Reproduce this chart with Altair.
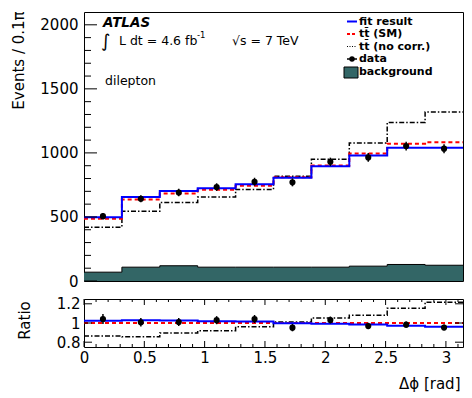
import numpy as np
import pandas as pd
import altair as alt

# ---- binning: 10 bins of width 0.1*pi in delta-phi ----
edges = np.linspace(0, np.pi, 11)
centers = 0.5 * (edges[:-1] + edges[1:])

# ---- event counts per bin ----
fit_result = [498, 655, 702, 725, 756, 806, 895, 980, 1041, 1041]
ttbar_sm = [486, 637, 684, 712, 744, 809, 902, 996, 1072, 1084]
ttbar_nocorr = [420, 545, 613, 655, 715, 818, 950, 1077, 1238, 1319]
data_counts = [506, 642, 691, 733, 775, 770, 930, 965, 1053, 1033]
data_errors = [25, 28, 29, 30, 31, 31, 33, 34, 35, 35]
background = [69, 108, 119, 108, 108, 108, 108, 116, 129, 123]

x_tick_labels = [0, 0.5, 1, 1.5, 2, 2.5, 3]
y_major = [0, 500, 1000, 1500, 2000]
r_major = [0.8, 1.0, 1.2]

W, H1, H2 = 379, 269, 48
FONT = "DejaVu Sans"
BG_COLOR = "#336666"


def steps(vals):
    return pd.DataFrame({"x": edges, "y": list(vals) + [vals[-1]]})


xs = alt.Scale(domain=[0, float(np.pi)], nice=False, zero=False)
ys = alt.Scale(domain=[0, 2100], nice=False)
rs = alt.Scale(domain=[0.75, 1.25], nice=False, zero=False)

y_axis = alt.Axis(values=y_major, format="d", ticks=False, domain=False,
                  labelPadding=6, labelFontSize=15, titleFontSize=15,
                  titleX=-61, titleY=48, titleAlign="center",
                  titleBaseline="alphabetic", titleAngle=270)
Y_TITLE = "Events / 0.1\u03c0"

r_axis = alt.Axis(values=r_major, format="~g", ticks=False, domain=False,
                  labelPadding=4, labelFontSize=15, titleFontSize=15,
                  titleX=-55, titleY=21, titleAlign="center",
                  titleBaseline="alphabetic", titleAngle=270)
R_TITLE = "Ratio"

x_axis_bottom = alt.Axis(values=x_tick_labels, format="~g", ticks=False, domain=False,
                         labelFlush=False, labelPadding=3, labelFontSize=15,
                         titleFontSize=15, titleX=376, titleY=41, titleAlign="right",
                         titleBaseline="alphabetic")
X_TITLE = "\u0394\u03d5 [rad]"


def X(field="x"):
    return alt.X(f"{field}:Q", scale=xs, axis=None)


def Y(field="y"):
    return alt.Y(f"{field}:Q", scale=ys, axis=y_axis, title=Y_TITLE)


# ================= upper panel =================
bg_area = alt.Chart(steps(background)).mark_area(
    interpolate="step-after", color=BG_COLOR, opacity=1
).encode(x=X(), y=Y(), y2=alt.datum(0))

bg_edge = alt.Chart(steps(background)).mark_line(
    interpolate="step-after", color="black", strokeWidth=1
).encode(x=X(), y=Y())

nocorr_line = alt.Chart(steps(ttbar_nocorr)).mark_line(
    interpolate="step-after", color="black", strokeWidth=1.5, strokeDash=[5, 2, 1.5, 2]
).encode(x=X(), y=Y())

sm_line = alt.Chart(steps(ttbar_sm)).mark_line(
    interpolate="step-after", color="#ff0000", strokeWidth=2, strokeDash=[4, 3]
).encode(x=X(), y=Y())

fit_line = alt.Chart(steps(fit_result)).mark_line(
    interpolate="step-after", color="#0000ff", strokeWidth=2
).encode(x=X(), y=Y())

data_df = pd.DataFrame({
    "x": centers,
    "y": data_counts,
    "lo": np.array(data_counts) - np.array(data_errors),
    "hi": np.array(data_counts) + np.array(data_errors),
})
data_err = alt.Chart(data_df).mark_rule(color="black", strokeWidth=1.5).encode(
    x=X(), y=Y("lo"), y2="hi:Q")
data_pts = alt.Chart(data_df).mark_circle(color="black", size=38, opacity=1).encode(
    x=X(), y=Y())

# inward ticks on the left edge
ymaj_df = pd.DataFrame({"y": y_major})
ymin_df = pd.DataFrame({"y": [v for v in range(100, 2100, 100) if v % 500]})
y_major_ticks = alt.Chart(ymaj_df).mark_rule(color="black").encode(
    y=Y(), x=alt.value(0), x2=alt.value(13))
y_minor_ticks = alt.Chart(ymin_df).mark_rule(color="black").encode(
    y=Y(), x=alt.value(0), x2=alt.value(7))


def label(text, x, y, size=12.5, weight="normal", style="normal", align="left"):
    return alt.Chart(pd.DataFrame({"t": [text]})).mark_text(
        font=FONT, fontSize=size, fontWeight=weight, fontStyle=style,
        align=align, baseline="alphabetic", color="black"
    ).encode(x=alt.value(x), y=alt.value(y), text="t:N")


atlas = label("ATLAS", 19, 15, size=13.5, weight="bold", style="italic")
integral = label("\u222b", 17, 35, size=18)
lumi = label("L dt = 4.6 fb", 35, 33)
lumi_sup = label("-1", 113, 26, size=8.5)
energy = label("\u221as = 7 TeV", 148, 33)
channel = label("dilepton", 21, 73)

# legend
LX0, LX1, LT = 263, 273, 275
leg_rows = [9.5, 22, 34.5, 47, 59.5]
leg_names = ["fit result", "tt\u0304 (SM)", "tt\u0304 (no corr.)", "data", "background"]


def leg_line(y, color, dash=None, width=2):
    kw = dict(color=color, strokeWidth=width)
    if dash:
        kw["strokeDash"] = dash
    return alt.Chart(pd.DataFrame({"a": [0]})).mark_rule(**kw).encode(
        x=alt.value(LX0), x2=alt.value(LX1), y=alt.value(y))


leg_fit = leg_line(leg_rows[0], "#0000ff")
leg_sm = leg_line(leg_rows[1], "#ff0000", [3, 2])
leg_nc = leg_line(leg_rows[2], "black", [1, 1.5], 1.2)
leg_data_line = leg_line(leg_rows[3], "black", None, 1.5)
leg_data_dot = alt.Chart(pd.DataFrame({"a": [0]})).mark_circle(
    color="black", size=30, opacity=1).encode(
    x=alt.value((LX0 + LX1) / 2), y=alt.value(leg_rows[3]))
leg_bg = alt.Chart(pd.DataFrame({"a": [0]})).mark_rect(
    color=BG_COLOR, stroke="black", strokeWidth=1).encode(
    x=alt.value(260), x2=alt.value(274), y=alt.value(55), y2=alt.value(66))
leg_text = alt.Chart(pd.DataFrame({"t": leg_names, "y": leg_rows})).mark_text(
    font=FONT, fontSize=11, fontWeight="bold", align="left", baseline="middle",
    color="black").encode(x=alt.value(LT), y=alt.Y("y:Q", scale=None, axis=None), text="t:N")

# invisible anchor that fixes the upper-left corner of the page
anchor = alt.Chart(pd.DataFrame({"a": [0]})).mark_rule(strokeOpacity=0, strokeWidth=1).encode(
    x=alt.value(-83.5), x2=alt.value(-82.5), y=alt.value(-11.5))

upper = alt.layer(
    bg_area, bg_edge, nocorr_line, sm_line, fit_line, data_err, data_pts,
    y_major_ticks, y_minor_ticks,
    atlas, integral, lumi, lumi_sup, energy, channel,
    leg_fit, leg_sm, leg_nc, leg_data_line, leg_data_dot, leg_bg, leg_text,
    anchor,
).properties(width=W, height=H1)

# ================= ratio panel =================
sm_arr = np.array(ttbar_sm, dtype=float)


def R(field="y"):
    return alt.Y(f"{field}:Q", scale=rs, axis=r_axis, title=R_TITLE)


def XB(field="x"):
    return alt.X(f"{field}:Q", scale=xs, axis=x_axis_bottom, title=X_TITLE)


r_nocorr = alt.Chart(steps(np.array(ttbar_nocorr) / sm_arr)).mark_line(
    interpolate="step-after", color="black", strokeWidth=1.5, strokeDash=[5, 2, 1.5, 2]
).encode(x=XB(), y=R())
r_sm = alt.Chart(steps(sm_arr / sm_arr)).mark_line(
    interpolate="step-after", color="#ff0000", strokeWidth=2, strokeDash=[4, 3]
).encode(x=XB(), y=R())
r_fit = alt.Chart(steps(np.array(fit_result) / sm_arr)).mark_line(
    interpolate="step-after", color="#0000ff", strokeWidth=2
).encode(x=XB(), y=R())

rdata_df = pd.DataFrame({
    "x": centers,
    "y": np.array(data_counts) / sm_arr,
    "lo": (np.array(data_counts) - np.array(data_errors)) / sm_arr,
    "hi": (np.array(data_counts) + np.array(data_errors)) / sm_arr,
})
r_err = alt.Chart(rdata_df).mark_rule(color="black", strokeWidth=1.5).encode(
    x=XB(), y=R("lo"), y2="hi:Q")
r_pts = alt.Chart(rdata_df).mark_circle(color="black", size=38, opacity=1).encode(
    x=XB(), y=R())

rmaj_df = pd.DataFrame({"y": r_major})
r_ticks_left = alt.Chart(rmaj_df).mark_rule(color="black").encode(
    y=R(), x=alt.value(0), x2=alt.value(8))
r_ticks_right = alt.Chart(rmaj_df).mark_rule(color="black").encode(
    y=R(), x=alt.value(W - 8), x2=alt.value(W))

xmaj_df = pd.DataFrame({"x": x_tick_labels})
xmin_df = pd.DataFrame({"x": [i / 10 for i in range(1, 32) if i % 5]})
x_ticks = []
for df, ln in ((xmaj_df, 6), (xmin_df, 3)):
    x_ticks.append(alt.Chart(df).mark_rule(color="black").encode(
        x=XB(), y=alt.value(H2 - ln), y2=alt.value(H2)))
    x_ticks.append(alt.Chart(df).mark_rule(color="black").encode(
        x=XB(), y=alt.value(0), y2=alt.value(ln)))

lower = alt.layer(
    r_nocorr, r_sm, r_fit, r_err, r_pts, r_ticks_left, r_ticks_right, *x_ticks
).properties(width=W, height=H2)

chart = alt.vconcat(upper, lower, spacing=18, bounds="flush").properties(
    padding=0
).configure_view(
    stroke="black", strokeWidth=1
).configure_axis(
    grid=False, labelColor="black", titleColor="black",
    labelFont=FONT, titleFont=FONT, titleFontWeight="normal"
)

chart.save("out.html", embed_options={"renderer": "svg", "actions": False})
